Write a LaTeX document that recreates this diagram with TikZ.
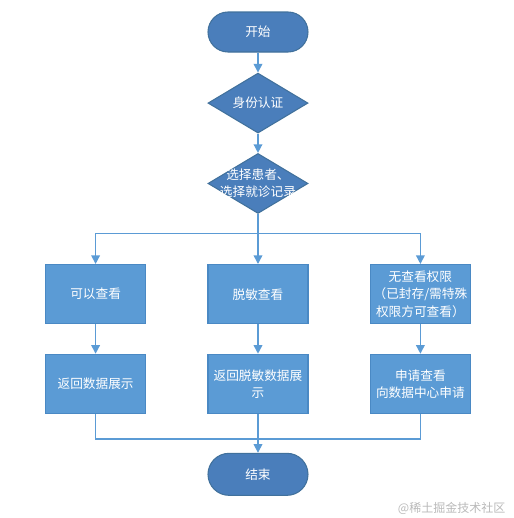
\documentclass[tikz,border=0pt]{standalone}
\usepackage{fontspec}
\setmainfont{Noto Sans CJK SC}
\usepackage{xcolor}
\usetikzlibrary{shapes.geometric, arrows.meta, positioning}
\definecolor{termblue}{HTML}{4A7EBB}
\definecolor{termline}{HTML}{41719C}
\definecolor{boxblue}{HTML}{5B9BD5}
\definecolor{boxline}{HTML}{4A89C4}
\definecolor{flowblue}{HTML}{5B9BD5}

\begin{document}
\begin{tikzpicture}[
    x=0.75pt, y=0.75pt,
    every node/.style={font=\fontsize{9.5}{13}\selectfont, text=white, align=center},
    terminal/.style={draw=termline, fill=termblue, thick, rounded corners=15pt, minimum width=75pt, minimum height=30pt},
    decision/.style={diamond, draw=termline, fill=termblue, thick, minimum width=75pt, minimum height=45pt, inner sep=0pt},
    process/.style={draw=boxline, fill=boxblue, thick, minimum width=75pt, minimum height=44.5pt, inner sep=2pt},
    arrow/.style={-{Triangle[length=6.5pt, width=6.5pt]}, line width=1.1pt, color=flowblue},
    link/.style={line width=1.1pt, color=flowblue}
]
\useasboundingbox (-258,32) rectangle (256,-486);

\node[terminal] (start) {开始};
\node[decision, below=15pt of start, label={center:身份认证}] (auth) {};
\node[decision, below=14.5pt of auth, label={center:{选择患者、\\选择就诊记录}}] (pick) {};
\node[process, below=37.5pt of pick] (masked) {脱敏查看};
\node[process, left=46pt of masked] (full) {可以查看};
\node[process, right=46pt of masked] (denied) {无查看权限\\（已封存/需特殊\\权限方可查看）};
\node[process, below=22pt of masked] (showmasked) {返回脱敏数据展\\示};
\node[process, below=22pt of full] (showfull) {返回数据展示};
\node[process, below=22pt of denied] (request) {申请查看\\向数据中心申请};
\node[terminal, below=29pt of showmasked, minimum height=31.5pt, rounded corners=15.75pt] (finish) {结束};
\node[anchor=east, text=gray!55, font=\fontsize{9}{11}\selectfont] (wmark) at (252,-476) {@稀土掘金技术社区};

\coordinate[below=14.5pt of pick.south] (split);
\coordinate[below=18.5pt of showmasked.south] (merge);

\draw[arrow] (start) -- (auth);
\draw[arrow] (auth) -- (pick);
\draw[arrow] (pick) -- (masked);
\draw[arrow] (split) -| (full);
\draw[arrow] (split) -| (denied);
\draw[arrow] (full) -- (showfull);
\draw[arrow] (masked) -- (showmasked);
\draw[arrow] (denied) -- (request);
\draw[link] (showfull) |- (merge);
\draw[link] (request) |- (merge);
\draw[arrow] (showmasked) -- (finish);
\end{tikzpicture}
\end{document}
